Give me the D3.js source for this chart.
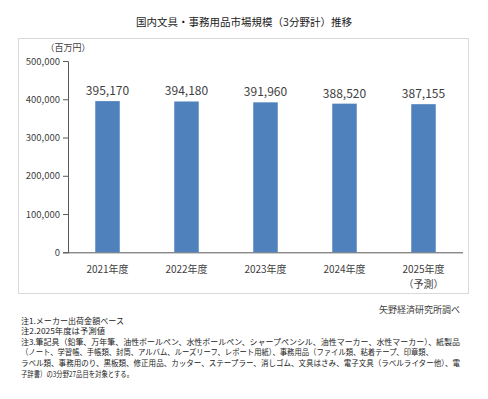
<!DOCTYPE html>
<html>
<head>
<meta charset="utf-8">
<script src="https://cdn.jsdelivr.net/npm/d3@7"></script>
<style>
  body { margin: 0; background: #fff; }
  text { font-family: "Noto Sans CJK JP", sans-serif; fill: #404040; }
</style>
</head>
<body>
<svg id="chart" width="488" height="399"></svg>
<script>
// chart data
var years = ['2021年度', '2022年度', '2023年度', '2024年度', '2025年度'];
var values = [395170, 394180, 391960, 388520, 387155];
var yTicks = [0, 100000, 200000, 300000, 400000, 500000];
var title = '国内文具・事務用品市場規模（3分野計）推移';
var unit = '（百万円）';
var forecastNote = '（予測）';
var source = '矢野経済研究所調べ';
var notes = [
  '注1.メーカー出荷金額ベース',
  '注2.2025年度は予測値',
  '注3.筆記具（鉛筆、万年筆、油性ボールペン、水性ボールペン、シャープペンシル、油性マーカー、水性マーカー）、紙製品',
  '（ノート、学習帳、手帳類、封筒、アルバム、ルーズリーフ、レポート用紙）、事務用品（ファイル類、粘着テープ、印章類、',
  'ラベル類、事務用のり、黒板類、修正用品、カッター、ステープラー、消しゴム、文具はさみ、電子文具（ラベルライター他）、電',
  '子辞書）の3分野27品目を対象とする。'
];
var noteWidths = [103, 84, 439, 412, 439, 112];

var svg = d3.select('#chart');
var fmt = d3.format(',');

var plot = { left: 68, right: 463, top: 61, bottom: 252.3 };

var x = d3.scaleBand()
  .domain(years)
  .range([plot.left, plot.right])
  .paddingInner(0.69)
  .paddingOuter(0.345);

var y = d3.scaleLinear()
  .domain([0, 500000])
  .range([plot.bottom, plot.top]);

// title
svg.append('text')
  .attr('x', 244).attr('y', 26)
  .attr('text-anchor', 'middle')
  .style('font-size', '10.5px')
  .style('fill', '#1a1a1a')
  .text(title);

// chart frame
svg.append('rect')
  .attr('x', 18.5).attr('y', 38.5)
  .attr('width', 450).attr('height', 255)
  .attr('fill', 'none')
  .attr('stroke', '#d9d9d9');

svg.append('text')
  .attr('x', 68).attr('y', 51)
  .attr('text-anchor', 'middle')
  .style('font-size', '9px')
  .text(unit);

// y axis
var yAxis = svg.append('g')
  .attr('transform', 'translate(' + plot.left + ',0)')
  .call(d3.axisLeft(y).tickValues(yTicks).tickFormat(fmt).tickSize(5).tickPadding(3));
yAxis.selectAll('line, path').attr('stroke', '#595959');
yAxis.selectAll('text').style('font-size', '9.5px').style('fill', '#404040')
  .attr('font-family', null);

// x axis
var xAxis = svg.append('g')
  .attr('transform', 'translate(0,' + plot.bottom + ')')
  .call(d3.axisBottom(x).tickSize(0).tickPadding(14));
xAxis.select('path').attr('stroke', '#595959').attr('d', 'M' + plot.left + ',0.5H' + plot.right);
xAxis.selectAll('text').style('font-size', '10px').style('fill', '#404040')
  .attr('font-family', null);

// forecast year gets a second line
xAxis.selectAll('.tick text')
  .filter(function(d) { return d === years[years.length - 1]; })
  .append('tspan')
  .attr('x', 0)
  .attr('dy', '1.5em')
  .text(forecastNote);

// bars
svg.selectAll('rect.bar')
  .data(values)
  .enter().append('rect')
  .attr('class', 'bar')
  .attr('x', function(d, i) { return x(years[i]); })
  .attr('y', function(d) { return y(d); })
  .attr('width', x.bandwidth())
  .attr('height', function(d) { return plot.bottom - y(d); })
  .attr('fill', '#4f81bd');

svg.selectAll('text.val')
  .data(values)
  .enter().append('text')
  .attr('class', 'val')
  .attr('x', function(d, i) { return x(years[i]) + x.bandwidth() / 2; })
  .attr('y', function(d) { return y(d) - 6; })
  .attr('text-anchor', 'middle')
  .style('font-size', '12px')
  .text(function(d) { return fmt(d); });

// source + notes
svg.append('text')
  .attr('x', 460).attr('y', 313)
  .attr('text-anchor', 'end')
  .style('font-size', '9px')
  .text(source);

svg.selectAll('text.note')
  .data(notes)
  .enter().append('text')
  .attr('class', 'note')
  .attr('x', 21)
  .attr('y', function(d, i) { return 323.5 + i * 10.6; })
  .attr('textLength', function(d, i) { return noteWidths[i]; })
  .attr('lengthAdjust', 'spacingAndGlyphs')
  .style('font-size', '8px')
  .style('fill', '#222')
  .text(function(d) { return d; });
</script>
</body>
</html>
